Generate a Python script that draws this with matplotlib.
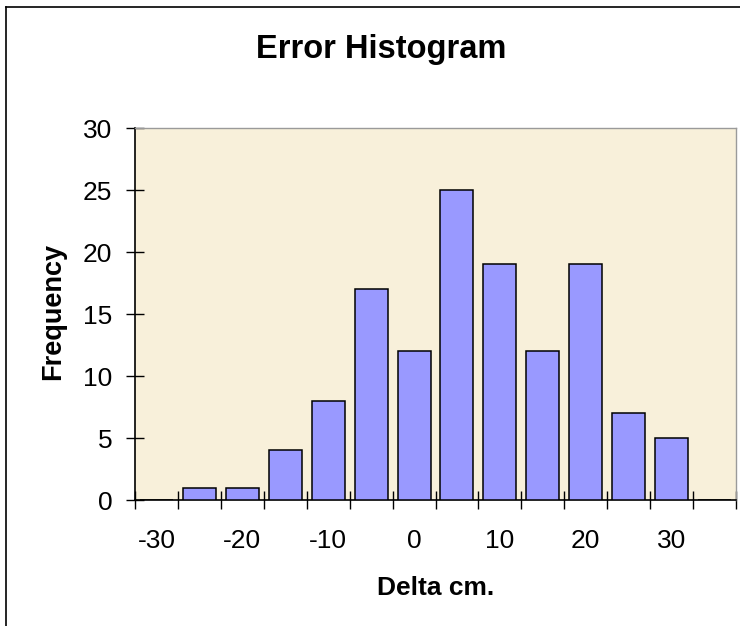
import matplotlib
matplotlib.use("Agg")
import matplotlib.pyplot as plt
import matplotlib.transforms as mtransforms
import numpy as np

categories = [-30, -25, -20, -15, -10, -5, 0, 5, 10, 15, 20, 25, 30, 35]
frequency = [0, 1, 1, 4, 8, 17, 12, 25, 19, 12, 19, 7, 5, 0]
tick_labels = ["-30", "-20", "-10", "0", "10", "20", "30"]
yticks = [0, 5, 10, 15, 20, 25, 30]

plt.rcParams['font.family'] = ['Liberation Sans', 'DejaVu Sans']

W, H = 740, 626
fig = plt.figure(figsize=(W/100, H/100), dpi=100)
fig.patch.set_facecolor('white')
# chart border
fig.add_artist(plt.Line2D([6/W, 6/W], [0, 1 - 7/H], color='black', lw=1.2, transform=fig.transFigure))
fig.add_artist(plt.Line2D([6/W, 1], [1 - 7/H, 1 - 7/H], color='black', lw=1.2, transform=fig.transFigure))

left, right, top, bottom = 135, 736, 128, 500
ax = fig.add_axes([left/W, 1 - bottom/H, (right-left)/W, (bottom-top)/H])
ax.set_facecolor('#F8F0DA')

x = np.arange(len(categories))
ax.bar(x, frequency, width=0.77, color='#9999FF', edgecolor='black', linewidth=1.1, zorder=3)

ax.set_xlim(-0.5, len(categories) - 0.5)
ax.set_ylim(0, 30)
ax.set_yticks(yticks)
ax.set_yticklabels([str(v) for v in yticks], fontsize=19)
ax.set_xticks(np.arange(-0.5, len(categories) + 0.5, 1.0))
ax.set_xticklabels([])
ax.tick_params(axis='x', direction='inout', length=13, width=1)
ax.tick_params(axis='y', direction='inout', length=12.5, width=1, pad=10)

trans = mtransforms.blended_transform_factory(ax.transData, fig.transFigure)
label_pos = [categories.index(int(t)) for t in tick_labels]
for p, t in zip(label_pos, tick_labels):
    ax.text(p, 1 - 548/H, t, transform=trans, ha='center', va='baseline', fontsize=19)

for s in ['left', 'bottom']:
    ax.spines[s].set_color('black')
    ax.spines[s].set_linewidth(1.2)
for s in ['top', 'right']:
    ax.spines[s].set_color('#9a9a9a')
    ax.spines[s].set_linewidth(1)

fig.text(381/W, 1 - 58/H, "Error Histogram", ha='center', va='baseline', fontsize=23.5, fontweight='bold')
fig.text(436/W, 1 - 595/H, "Delta cm.", ha='center', va='baseline', fontsize=19, fontweight='bold')
fig.text(53/W, 1 - 311/H, "Frequency", ha='center', va='center', fontsize=19.5, fontweight='bold', rotation=90)

fig.savefig("out.png", dpi=100, facecolor='white')
